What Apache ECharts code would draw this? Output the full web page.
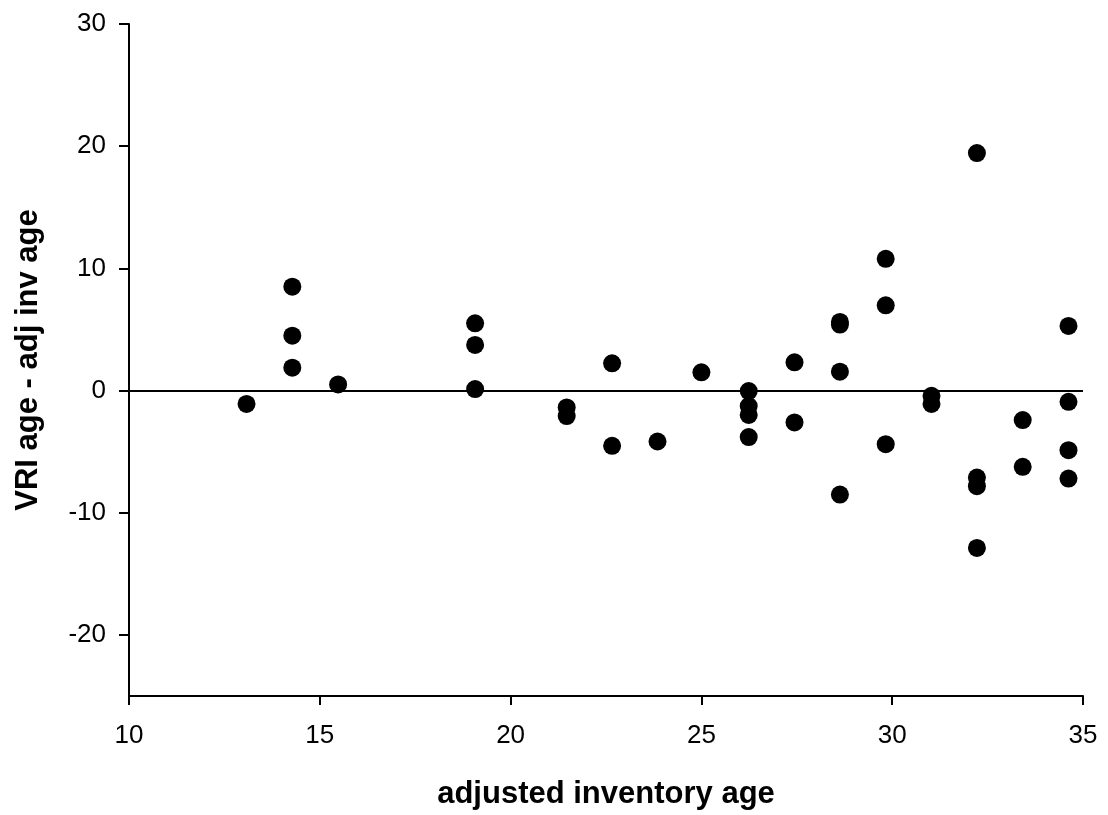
<!DOCTYPE html>
<html>
<head>
<meta charset="utf-8">
<script src="https://cdn.jsdelivr.net/npm/echarts@6/dist/echarts.min.js"></script>
<style>
    html, body {margin: 0; padding: 0; background: #fff;}
    #scatter {width: 1108px; height: 815px;}
</style>
</head>
<body>
<div id="scatter"></div>
<script>
// adjusted inventory age
var invAge = [13.08, 14.28, 14.28, 14.28, 15.48, 19.07, 19.07, 19.07, 21.47, 21.47,
    22.66, 22.66, 23.85, 25.0, 26.24, 26.24, 26.24, 26.24, 27.44, 27.44,
    28.63, 28.63, 28.63, 28.63, 29.83, 29.83, 29.83, 31.03, 31.03,
    32.22, 32.22, 32.22, 32.22, 33.42, 33.42, 34.62, 34.62, 34.62, 34.62];
// VRI age - adj inv age
var ageDiff = [-1.1, 8.5, 4.49, 1.87, 0.5, 5.5, 3.73, 0.12, -1.38, -2.09,
    2.23, -4.52, -4.17, 1.49, -0.04, -1.27, -2.0, -3.81, 2.31, -2.61,
    5.62, 5.4, 1.54, -8.51, 10.78, 6.98, -4.39, -0.43, -1.1,
    19.44, -7.12, -7.83, -12.88, -2.42, -6.24, 5.29, -0.92, -4.88, -7.2];
var yTicks = [-20, -10, 0, 10, 20, 30];

var points = [];
for (var i = 0; i < invAge.length; i++) {
    points.push([invAge[i], ageDiff[i]]);
}

var myChart = echarts.init(document.getElementById('scatter'));
myChart.setOption({
    animation: false,
    textStyle: {fontFamily: 'Liberation Sans, Arial, sans-serif'},
    grid: {left: 129, right: 25, top: 24, bottom: 118},
    xAxis: {
        type: 'value',
        min: 10,
        max: 35,
        interval: 5,
        name: 'adjusted inventory age',
        nameLocation: 'middle',
        nameGap: 83,
        nameTextStyle: {fontSize: 31, fontWeight: 'bold', color: '#000'},
        axisLine: {onZero: false, lineStyle: {color: '#000', width: 2}},
        axisTick: {length: 9, lineStyle: {color: '#000', width: 2}},
        axisLabel: {fontSize: 26, color: '#000', margin: 27},
        splitLine: {show: false}
    },
    yAxis: {
        type: 'value',
        min: -25,
        max: 30,
        name: 'VRI age - adj inv age',
        nameLocation: 'middle',
        nameRotate: 90,
        nameGap: 85,
        nameTextStyle: {fontSize: 31, fontWeight: 'bold', color: '#000'},
        axisLine: {show: true, onZero: false, lineStyle: {color: '#000', width: 2}},
        axisTick: {show: true, length: 10, customValues: yTicks, lineStyle: {color: '#000', width: 2}},
        axisLabel: {fontSize: 26, color: '#000', margin: 23, customValues: yTicks},
        splitLine: {show: false}
    },
    series: [
        {
            type: 'scatter',
            data: points,
            symbolSize: 18,
            itemStyle: {color: '#000', opacity: 1},
            markLine: {
                silent: true,
                symbol: 'none',
                label: {show: false},
                lineStyle: {color: '#000', width: 2, type: 'solid'},
                data: [{yAxis: 0}]
            }
        }
    ]
});
</script>
</body>
</html>
